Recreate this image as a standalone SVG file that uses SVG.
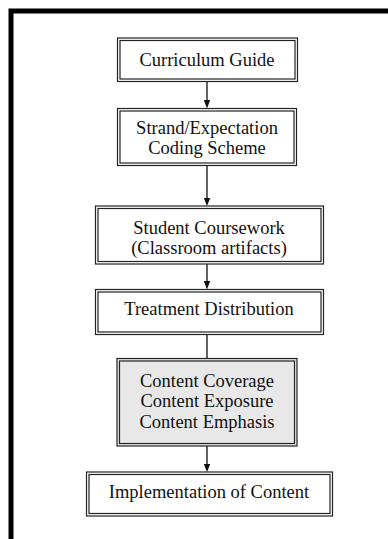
<svg xmlns="http://www.w3.org/2000/svg" width="388" height="539" viewBox="0 0 388 539">
<style>
.o{fill:#fff;stroke:#222;stroke-width:1.2}
.i{fill:none;stroke:#222;stroke-width:1.2}
.g{fill:#e8e8e8}
text{font-family:"Liberation Serif","Times New Roman",serif;font-size:18.5px;fill:#111;text-anchor:middle}
.c line{stroke:#222;stroke-width:1.4}
.c polygon{fill:#111}
</style>
<rect x="0" y="0" width="388" height="539" fill="#fff"/>
<path d="M11,545 V11 H395" fill="none" stroke="#000" stroke-width="5"/>
<g class="c" id="connectors">
<line x1="207" y1="81.5" x2="207" y2="100"/><polygon points="203.8,100 210.2,100 207,108.5"/>
<line x1="207" y1="165.5" x2="207" y2="198"/><polygon points="203.8,198 210.2,198 207,206"/>
<line x1="207" y1="264" x2="207" y2="281"/><polygon points="203.8,281 210.2,281 207,289.5"/>
<line x1="207" y1="334.5" x2="207" y2="358.5"/>
<line x1="207" y1="446" x2="207" y2="464"/><polygon points="203.8,464 210.2,464 207,472"/>
</g>
<g id="n1"><rect class="o" x="117.5" y="38" width="180" height="43.5"/><rect class="i" x="120" y="40.5" width="175" height="38.5"/><text x="207" y="65.5">Curriculum Guide</text></g>
<g id="n2"><rect class="o" x="117.5" y="108.5" width="179" height="57"/><rect class="i" x="120" y="111" width="174" height="52"/><text x="207" y="134">Strand/Expectation</text><text x="207" y="153.5">Coding Scheme</text></g>
<g id="n3"><rect class="o" x="95.5" y="206" width="228" height="58"/><rect class="i" x="98" y="208.5" width="223" height="53"/><text x="209" y="233.5">Student Coursework</text><text x="209" y="253.5">(Classroom artifacts)</text></g>
<g id="n4"><rect class="o" x="95.5" y="289.5" width="228" height="45"/><rect class="i" x="98" y="292" width="223" height="40"/><text x="209" y="315">Treatment Distribution</text></g>
<g id="n5"><rect class="o g" x="117" y="358.5" width="180" height="87.5"/><rect class="i" x="119.5" y="361" width="175" height="82.5"/><text x="207" y="386.5">Content Coverage</text><text x="207" y="407">Content Exposure</text><text x="207" y="427.5">Content Emphasis</text></g>
<g id="n6"><rect class="o" x="86.5" y="472" width="246" height="44"/><rect class="i" x="89" y="474.5" width="241" height="39"/><text x="209" y="497.5">Implementation of Content</text></g>
</svg>
